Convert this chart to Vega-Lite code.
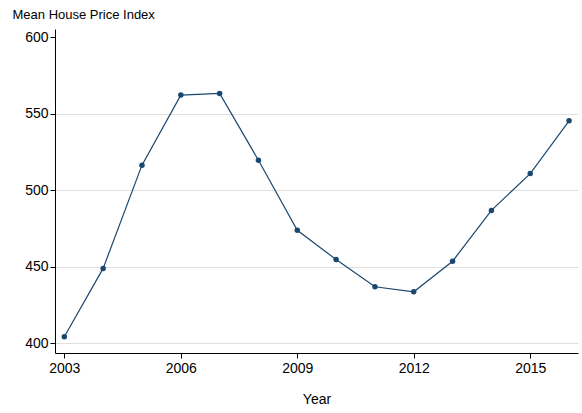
{
  "$schema": "https://vega.github.io/schema/vega-lite/v6.json",
  "autosize": {"type": "none"},
  "width": 523,
  "height": 324,
  "padding": {"left": 55, "top": 29, "right": 4, "bottom": 60},
  "background": "white",
  "config": {
    "view": {"stroke": null},
    "font": "Liberation Sans",
    "axis": {"labelFont": "Liberation Sans", "titleFont": "Liberation Sans", "labelFontSize": 14, "titleFontSize": 13, "labelColor": "#000", "titleColor": "#000", "titleFontWeight": "normal", "domainColor": "#000", "tickColor": "#000", "tickSize": 5}
  },
  "data": {
    "values": [
      {"Year": 2003, "Index": 404.3},
      {"Year": 2004, "Index": 449.0},
      {"Year": 2005, "Index": 516.5},
      {"Year": 2006, "Index": 562.3},
      {"Year": 2007, "Index": 563.4},
      {"Year": 2008, "Index": 519.7},
      {"Year": 2009, "Index": 473.9},
      {"Year": 2010, "Index": 454.8},
      {"Year": 2011, "Index": 437.0},
      {"Year": 2012, "Index": 433.7},
      {"Year": 2013, "Index": 453.7},
      {"Year": 2014, "Index": 486.9},
      {"Year": 2015, "Index": 511.0},
      {"Year": 2016, "Index": 545.5}
    ]
  },
  "encoding": {
    "x": {
      "field": "Year", "type": "quantitative",
      "scale": {"domain": [2002.76, 2016.23], "nice": false, "zero": false},
      "axis": {"values": [2003, 2006, 2009, 2012, 2015], "format": "d", "grid": false, "title": "Year", "titleFontSize": 14, "labelPadding": 3, "titlePadding": 17}
    },
    "y": {
      "field": "Index", "type": "quantitative",
      "scale": {"domain": [393.7, 605.5], "nice": false, "zero": false},
      "axis": {
        "values": [400, 450, 500, 550, 600],
        "title": "Mean House Price Index",
        "titleAngle": 0, "titleAlign": "left", "titleBaseline": "bottom",
        "titleX": -43, "titleY": -8,
        "labelPadding": 2,
        "grid": true,
        "gridColor": {"condition": {"test": "datum.value == 600", "value": "transparent"}, "value": "#e0e0e0"},
        "gridWidth": 1.2
      }
    }
  },
  "layer": [
    {"mark": {"type": "line", "color": "#1a476f", "strokeWidth": 1.2}},
    {"mark": {"type": "point", "filled": true, "color": "#1a476f", "opacity": 1, "size": 30}}
  ]
}
